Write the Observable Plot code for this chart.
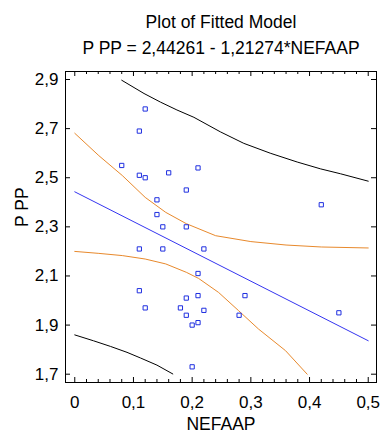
<!DOCTYPE html>
<html><head><meta charset="utf-8">
<script src="https://cdn.jsdelivr.net/npm/d3@7"></script>
<script src="https://cdn.jsdelivr.net/npm/@observablehq/plot@0.6"></script>
<style>body{margin:0;background:#fff}</style>
</head><body><div id="chart"></div>
<script>
// Observations
const obsX = [0.12,0.11,0.08,0.11,0.12,0.16,0.21,0.19,0.14,0.14,0.15,0.19,0.11,0.15,0.22,0.21,0.11,0.19,0.21,0.12,0.18,0.22,0.19,0.21,0.20,0.20,0.42,0.29,0.28,0.45];
const obsY = [2.78,2.69,2.55,2.51,2.50,2.52,2.54,2.45,2.41,2.35,2.30,2.30,2.21,2.21,2.21,2.11,2.04,2.01,2.02,1.97,1.97,1.96,1.94,1.91,1.90,1.73,2.39,2.02,1.94,1.95];
// Fitted line
const fitX = [0, 0.5];
const fitY = [2.44261, 1.83624];
// Confidence limits (orange)
const ucX = [0.00,0.041,0.081,0.120,0.155,0.190,0.240,0.300,0.360,0.420,0.500];
const ucY = [2.681,2.590,2.509,2.420,2.359,2.313,2.264,2.240,2.226,2.218,2.214];
const lcX = [0.00,0.041,0.081,0.120,0.155,0.190,0.211,0.245,0.279,0.313,0.359,0.396];
const lcY = [2.200,2.192,2.183,2.169,2.149,2.115,2.090,2.033,1.959,1.884,1.796,1.700];
// Prediction limits (black)
const upX = [0.080,0.118,0.146,0.174,0.203,0.248,0.288,0.333,0.379,0.419,0.453,0.500];
const upY = [2.897,2.843,2.808,2.776,2.746,2.687,2.640,2.600,2.564,2.536,2.516,2.486];
const lpX = [0.000,0.032,0.061,0.089,0.112,0.140,0.167];
const lpY = [1.860,1.836,1.813,1.789,1.766,1.737,1.701];
// Ticks and labels
const xMajor = [0,0.1,0.2,0.3,0.4,0.5];
const xMinor = [0.02,0.04,0.06,0.08,0.12,0.14,0.16,0.18,0.22,0.24,0.26,0.28,0.32,0.34,0.36,0.38,0.42,0.44,0.46,0.48];
const yMajor = [1.7,1.9,2.1,2.3,2.5,2.7,2.9];
const title = "Plot of Fitted Model";
const subtitle = "P PP = 2,44261 - 1,21274*NEFAAP";
const xLabel = "NEFAAP";
const yLabel = "P PP";

const pts = (xs, ys) => xs.map((x, i) => ({x, y: ys[i]}));
const fmt = d => d === 0 ? "0" : d.toFixed(1).replace(".", ",");

const W = 380, H = 436, mL = 65, mR = 4, mT = 71, mB = 54;
const pw = W - mL - mR, ph = H - mT - mB;
const FONT = 17;

const chart = Plot.plot({
  width: W, height: H,
  marginLeft: mL, marginRight: mR, marginTop: mT, marginBottom: mB,
  style: {fontFamily: "'Liberation Sans', Arial, sans-serif", background: "#fff", color: "#000"},
  x: {domain: [-0.0158, 0.5141]},
  y: {domain: [1.6662, 2.9326]},
  marks: [
    Plot.line(pts(upX, upY), {x: "x", y: "y", stroke: "#000", strokeWidth: 1}),
    Plot.line(pts(lpX, lpY), {x: "x", y: "y", stroke: "#000", strokeWidth: 1}),
    Plot.line(pts(ucX, ucY), {x: "x", y: "y", stroke: "#e8892c", strokeWidth: 1}),
    Plot.line(pts(lcX, lcY), {x: "x", y: "y", stroke: "#e8892c", strokeWidth: 1}),
    Plot.line(pts(fitX, fitY), {x: "x", y: "y", stroke: "#3535f0", strokeWidth: 1}),
    Plot.dot(pts(obsX, obsY), {x: "x", y: "y", symbol: "square", r: 2.4, stroke: "#1f2fe0", fill: "none", strokeWidth: 1}),
    // inward ticks
    Plot.tickX(xMajor, {x: d => d, insetTop: ph - 5, stroke: "#000"}),
    Plot.tickX(xMinor, {x: d => d, insetTop: ph - 3, stroke: "#000"}),
    Plot.tickX(xMajor, {x: d => d, insetBottom: ph - 5, stroke: "#000"}),
    Plot.tickX(xMinor, {x: d => d, insetBottom: ph - 3, stroke: "#000"}),
    Plot.tickY(yMajor, {y: d => d, insetRight: pw - 5, stroke: "#000"}),
    Plot.tickY(yMajor, {y: d => d, insetLeft: pw - 5, stroke: "#000"}),
    Plot.frame({stroke: "#000", strokeWidth: 1}),
    Plot.axisX({ticks: xMajor, tickSize: 0, tickPadding: 13, tickFormat: fmt, fontSize: FONT, label: null}),
    Plot.axisY({ticks: yMajor, tickSize: 0, tickPadding: 7, tickFormat: fmt, fontSize: FONT, label: null}),
    Plot.text([title], {text: d => d, frameAnchor: "top", dy: -44, lineAnchor: "bottom", fontSize: 17.5, fill: "#000"}),
    Plot.text([subtitle], {text: d => d, frameAnchor: "top", dy: -17.5, lineAnchor: "bottom", fontSize: 17.5, fill: "#000"}),
    Plot.text([xLabel], {text: d => d, frameAnchor: "bottom", dy: 47, lineAnchor: "bottom", fontSize: 17.5, fill: "#000"}),
    Plot.text([yLabel], {text: d => d, frameAnchor: "left", dx: -38, rotate: -90, lineAnchor: "bottom", fontSize: 17.5, fill: "#000"})
  ]
});
document.getElementById("chart").appendChild(chart);
</script>
</body></html>
